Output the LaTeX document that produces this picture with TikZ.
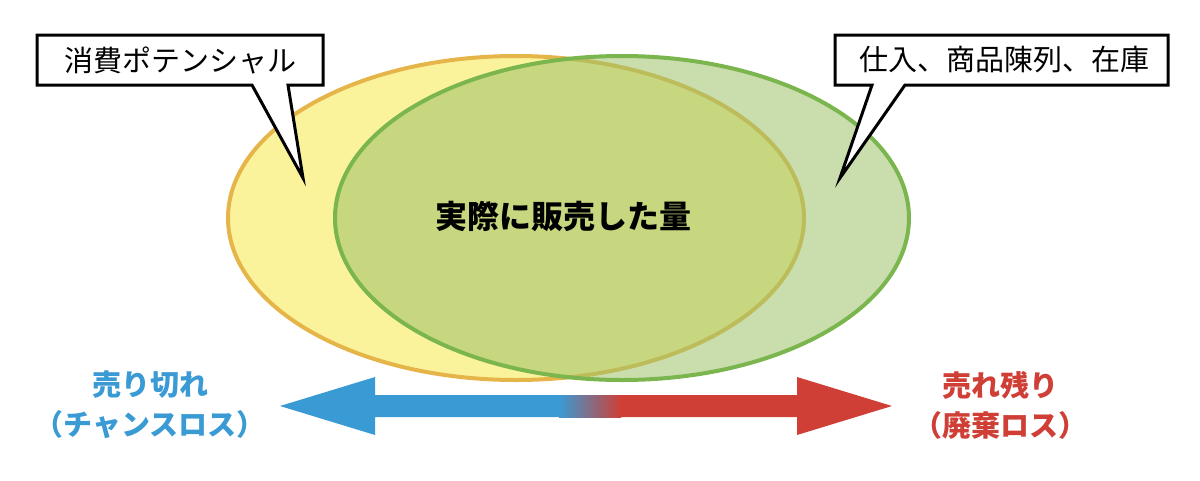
\documentclass[tikz,border=0pt]{standalone}
\usepackage{fontspec}
\usepackage{tikz}
\newfontfamily\cjk{Noto Sans CJK JP}
\definecolor{potentialFill}{HTML}{FBF29C}
\definecolor{potentialDraw}{HTML}{E6B54A}
\definecolor{stockFill}{HTML}{9CC268}
\definecolor{stockDraw}{HTML}{7AB54E}
\definecolor{soldOut}{HTML}{3A9AD4}
\definecolor{leftOver}{HTML}{CF3F36}

\begin{document}
\begin{tikzpicture}[
  x=1pt, y=-1pt,
  every node/.style={
    font=\cjk\fontsize{29}{34}\selectfont,
  },
  callout/.style={
    draw=black,
    line width=3pt,
    fill=white,
    line join=miter,
  },
  bold label/.style={
    font=\cjk\bfseries\fontsize{29}{40}\selectfont,
  }
]
\useasboundingbox (0,0) rectangle (1200,480);
% ellipses
\draw[potentialDraw, line width=4pt, fill=potentialFill]
  (516,218) ellipse [x radius=288, y radius=162];
\draw[stockDraw, line width=4pt, fill=stockFill, fill opacity=0.55]
  (622,218) ellipse [x radius=287, y radius=162];
\node[bold label, font=\cjk\bfseries\fontsize{32}{36}\selectfont] (sold) at (563,216) {実際に販売した量};
% callouts
\draw[callout] (37,35) -- (323,35) -- (323,85) -- (288,85) -- (303,178)
  -- (252,85) -- (37,85) -- cycle;
\node (potential) at (180,60) {消費ポテンシャル};
\draw[callout] (835,35) -- (1168,35) -- (1168,85) -- (905,85) -- (840,178)
  -- (872,85) -- (835,85) -- cycle;
\node (stock) at (1004,60) {仕入、商品陳列、在庫};
% arrow
\coordinate (west) at (280,406);
\coordinate (east) at (892,406);
\fill[soldOut] (west) -- (375,377) -- (375,395) -- (560,395) -- (560,417)
  -- (375,417) -- (375,435) -- cycle;
\shade[left color=soldOut, right color=leftOver] (559,395) rectangle (621,417);
\fill[leftOver] (east) -- (797,377) -- (797,395) -- (620,395) -- (620,417)
  -- (797,417) -- (797,435) -- cycle;
\node[bold label, text=soldOut, align=center] (chance) at (150,405)
  {売り切れ\\（チャンスロス）};
\node[bold label, text=leftOver, align=center] (waste) at (1000,405)
  {売れ残り\\（廃棄ロス）};
\end{tikzpicture}
\end{document}
